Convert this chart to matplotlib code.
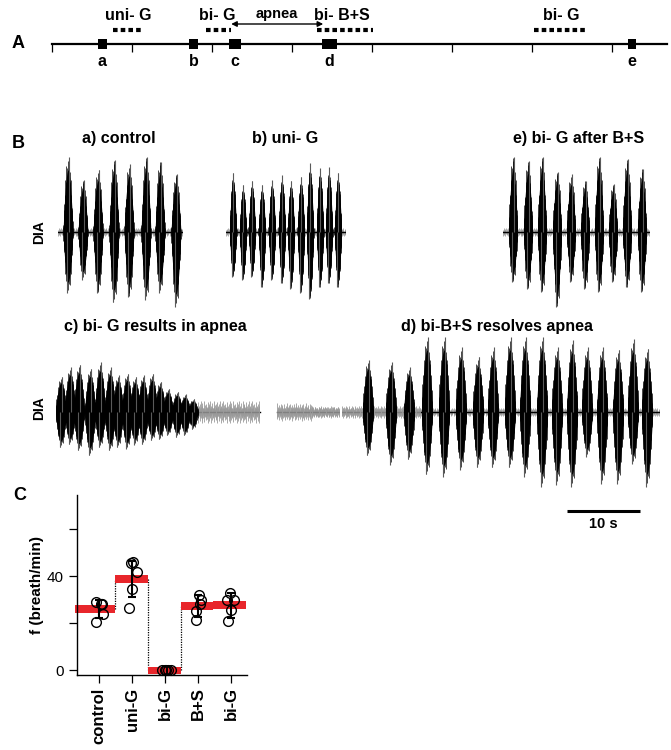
"""Figure: timeline of injections (A), DIA EMG bursts (B), breathing frequency (C)."""

import matplotlib
matplotlib.use("Agg")
import matplotlib.pyplot as plt
import numpy as np

plt.rcParams["font.family"] = ["Liberation Sans", "DejaVu Sans"]

W, H = 671, 750
PX_PER_S = 7.3          # trace time scale (10 s scale bar = 73 px)
PX_PER_UNIT = 80        # trace amplitude 1.0 = 80 px

# ---------------- A: timeline ----------------
EVENT_LABELS = ["a", "b", "c", "d", "e"]
EVENT_POS = [0.63, 1.77, 2.29, 3.47, 7.25]          # timeline units
EVENT_WIDTH = [0.11, 0.11, 0.15, 0.19, 0.11]
TIMELINE_END = 7.69
TIMELINE_TICKS = [0, 1, 2, 3, 4, 5, 6, 7]
INJ_LABELS = ["uni- G", "bi- G", "bi- B+S", "bi- G"]
INJ_START = [0.76, 1.93, 3.31, 6.02]
INJ_END = [1.11, 2.24, 4.01, 6.68]
INJ_TEXT_X = [0.95, 2.06, 3.62, 6.37]
APNEA = (2.24, 3.39)

# ---------------- B: DIA traces (burst centre s, up / down amplitude) ----------------
A_T = [1.37, 3.42, 5.48, 7.67, 9.73, 12.05, 13.97, 16.16]
A_UP = [0.94, 0.65, 0.78, 0.90, 0.85, 0.94, 0.88, 0.72]
A_DN = [0.76, 0.60, 0.76, 0.88, 0.81, 0.85, 0.76, 0.94]

B_T = [0.96, 2.33, 3.56, 4.93, 6.30, 7.67, 8.90, 10.27, 11.51, 12.88, 14.11, 15.34]
B_UP = [0.74, 0.59, 0.64, 0.59, 0.65, 0.71, 0.64, 0.69, 0.86, 0.80, 0.81, 0.74]
B_DN = [0.56, 0.60, 0.56, 0.69, 0.60, 0.64, 0.71, 0.76, 0.84, 0.69, 0.64, 0.69]

E_T = [1.37, 3.42, 5.34, 7.40, 9.32, 11.23, 13.15, 15.07, 16.99, 19.04]
E_UP = [0.94, 0.89, 0.94, 0.75, 0.72, 0.64, 0.94, 0.60, 0.91, 0.79]
E_DN = [0.62, 0.71, 0.75, 0.94, 0.62, 0.71, 0.75, 0.62, 0.69, 0.75]

C_T = [0.68, 1.92, 3.15, 4.66, 6.03, 7.40, 8.49, 9.73, 10.82, 11.92, 13.15,
       14.25, 15.34, 16.58, 17.67, 18.77]
C_UP = [0.44, 0.56, 0.59, 0.54, 0.62, 0.56, 0.46, 0.48, 0.44, 0.46, 0.48,
        0.38, 0.29, 0.25, 0.22, 0.16]
C_DN = [0.44, 0.40, 0.48, 0.54, 0.44, 0.48, 0.44, 0.46, 0.41, 0.40, 0.35,
        0.34, 0.29, 0.31, 0.29, 0.21]

D_T = [3.56, 6.71, 9.18, 11.64, 13.97, 16.30, 18.63, 20.68, 23.01, 25.07,
       27.40, 29.45, 31.51, 33.56, 35.62, 37.81, 39.86, 41.78]
D_UP = [0.65, 0.62, 0.56, 0.94, 0.94, 0.81, 0.69, 0.81, 0.94, 0.94, 0.94,
        0.81, 0.90, 0.81, 0.81, 0.78, 0.91, 0.79]
D_DN = [0.54, 0.66, 0.59, 0.78, 0.81, 0.72, 0.69, 0.69, 0.69, 0.81, 0.94,
        0.91, 0.94, 0.56, 0.90, 0.90, 0.65, 0.94]

# background (tonic) noise segments: (start s, end s, amplitude)
C_NOISE = [(18.5, 27.9, 0.14), (30.3, 35.0, 0.11), (35.0, 39.0, 0.07)]
D_NOISE = [(0.0, 10.7, 0.08)]
C_SEGMENTS = [(0.0, 27.9), (30.3, 39.0)]

# spike texture inside bursts (drawing pattern only)
TEX = np.array([1.0, 0.55, 0.82, 0.35, 0.95, 0.62, 0.74, 0.42, 0.9, 0.5, 0.68])

# ---------------- C: breathing frequency ----------------
GROUPS = ["control", "uni-G", "bi-G", "B+S", "bi-G"]
MEANS = [26.0, 38.8, 0.0, 27.3, 27.7]
SDS = [3.8, 7.8, 0.0, 4.6, 5.3]
PTS = [[29.0, 28.3, 28.0, 24.0, 20.4],
       [46.0, 45.4, 41.8, 34.7, 26.6],
       [0.0, 0.0, 0.0, 0.0, 0.0],
       [31.8, 29.7, 28.0, 25.4, 21.4],
       [32.8, 29.7, 30.0, 25.7, 21.1]]
PTS_DX = [[-0.1, 0.05, 0.1, 0.12, -0.08],
          [0.02, -0.02, 0.15, 0.0, -0.08],
          [-0.1, 0.0, 0.04, 0.1, 0.17],
          [0.02, 0.1, 0.05, -0.05, -0.08],
          [-0.02, -0.14, 0.1, 0.0, -0.1]]

fig = plt.figure(figsize=(W / 100, H / 100), dpi=100)


def px_axes(x0, y0, x1, y1):
    return fig.add_axes([x0 / W, 1 - y1 / H, (x1 - x0) / W, (y1 - y0) / H])


# ---------------- panel A ----------------
axA = px_axes(0, 0, W, 80)
axA.set_xlim(-52 / 80, (W - 52) / 80)
axA.set_ylim(-36, 44)
axA.axis("off")
axA.plot([0, TIMELINE_END], [0, 0], color="black", lw=1.6)
axA.vlines(TIMELINE_TICKS, -8, 0, color="black", lw=0.9)
axA.bar(EVENT_POS, 10, bottom=-5, width=EVENT_WIDTH, color="black")
for lab, x in zip(EVENT_LABELS, EVENT_POS):
    axA.text(x, -18, lab, ha="center", va="center", fontsize=11.5, fontweight="bold")
for lab, s, e, tx in zip(INJ_LABELS, INJ_START, INJ_END, INJ_TEXT_X):
    axA.plot([s, e], [14, 14], color="black", lw=3, ls=(0, (1.1, 0.75)))
    axA.text(tx, 29, lab, ha="center", va="center", fontsize=11.5, fontweight="bold")
axA.annotate("", xy=(APNEA[0], 20), xytext=(APNEA[1], 20),
             arrowprops=dict(arrowstyle="<|-|>", color="black", lw=1.0,
                             mutation_scale=8, shrinkA=0, shrinkB=0))
axA.text(sum(APNEA) / 2, 30, "apnea", ha="center", va="center", fontsize=10.5,
         fontweight="bold")
fig.text(12 / W, 1 - 43 / H, "A", fontsize=13, fontweight="bold", va="center")


# ---------------- panel B ----------------
def draw_trace(ax, t_end, times, ups, dns, width, noise=(), segments=None,
               base_noise=0.05):
    ax.set_xlim(0, t_end)
    ax.set_ylim(-1, 1)
    ax.axis("off")
    segments = segments or [(0, t_end)]
    for s, e in segments:
        tt = np.arange(s, e, 0.08)
        tex = np.resize(TEX, len(tt))
        ax.vlines(tt, -base_noise * tex, base_noise * tex[::-1], color="#8a8a8a", lw=0.5)
        ax.plot([s, e], [0, 0], color="black", lw=1.0)
    for s, e, a in noise:
        tt = np.arange(s, e, 0.12)
        tex = np.resize(TEX, len(tt))
        ax.vlines(tt, -a * tex[::-1], a * tex, color="#9a9a9a", lw=0.6)
    for tc, up, dn in zip(times, ups, dns):
        t = np.linspace(tc - width / 2, tc + width / 2, 50)
        u = (t - t[0]) / width
        env = np.sin(np.pi * u) ** 0.85
        tex = np.resize(TEX, len(t))
        ax.vlines(t, -dn * env * tex, up * env * tex[::-1], color="black", lw=0.5)
        ax.fill_between(t, -dn * 0.82 * env, up * 0.82 * env, color="black", lw=0)
        ax.vlines(tc + 0.06 * width, 0, up, color="#5a5a5a", lw=0.8)
        ax.vlines(tc - 0.08 * width, -dn, 0, color="#5a5a5a", lw=0.8)
    return ax


def trace_axes(x0, x1, yc):
    return px_axes(x0, yc - PX_PER_UNIT, x1, yc + PX_PER_UNIT)


ax_a = trace_axes(58, 183, 232)
draw_trace(ax_a, 125 / PX_PER_S, A_T, A_UP, A_DN, 1.35)
ax_b = trace_axes(226, 346, 232)
draw_trace(ax_b, 120 / PX_PER_S, B_T, B_UP, B_DN, 1.0)
ax_e = trace_axes(503, 650, 232)
draw_trace(ax_e, 147 / PX_PER_S, E_T, E_UP, E_DN, 1.25)
ax_c = trace_axes(56, 340, 412)
draw_trace(ax_c, 284 / PX_PER_S, C_T, C_UP, C_DN, 1.55, noise=C_NOISE,
           segments=C_SEGMENTS, base_noise=0.06)
ax_d = trace_axes(342, 660, 412)
draw_trace(ax_d, 318 / PX_PER_S, D_T, D_UP, D_DN, 1.55, noise=D_NOISE)

# 10 s scale bar drawn in trace time units
ax_d.plot([30.8, 40.8], [-1.24, -1.24], color="black", lw=2.2, clip_on=False,
          solid_capstyle="butt")
ax_d.text(35.8, -1.4, "10 s", ha="center", va="center", fontsize=10.5,
          fontweight="bold", clip_on=False)

titles = [(119, 139, "a) control"), (285, 139, "b) uni- G"),
          (579, 139, "e) bi- G after B+S"), (155, 326, "c) bi- G results in apnea"),
          (497, 326, "d) bi-B+S resolves apnea")]
for x, y, s in titles:
    fig.text(x / W, 1 - y / H, s, ha="center", va="center", fontsize=11.6,
             fontweight="bold")
for y in (232, 408):
    fig.text(39 / W, 1 - y / H, "DIA", ha="center", va="center", rotation=90,
             fontsize=10, fontweight="bold")
fig.text(12 / W, 1 - 143 / H, "B", fontsize=13, fontweight="bold", va="center")

# ---------------- panel C ----------------
axC = px_axes(77, 495, 247, 675)
fig.text(13 / W, 1 - 495 / H, "C", fontsize=13, fontweight="bold", va="center")
x = np.arange(len(GROUPS))
lefts = [-0.72, 0.48, 1.48, 2.48, 3.45]
rights = [0.48, 1.48, 2.48, 3.45, 4.45]
for i in range(len(GROUPS)):
    axC.bar(lefts[i], 3.2, bottom=MEANS[i] - 1.6, width=rights[i] - lefts[i],
            align="edge", color="#e8262b", lw=0, zorder=2, clip_on=False)
for i in range(len(GROUPS) - 1):
    if abs(MEANS[i + 1] - MEANS[i]) > 2:
        axC.plot([rights[i], rights[i]], [MEANS[i], MEANS[i + 1]], color="black",
                 lw=0.9, ls=(0, (1, 1)), zorder=1)
for i in range(len(GROUPS)):
    if SDS[i] > 0:
        axC.errorbar(x[i], MEANS[i], yerr=SDS[i], color="black", lw=1.5,
                     capsize=3, capthick=1.5, zorder=3)
    axC.plot(x[i] + np.array(PTS_DX[i]), PTS[i], "o", mfc="none", mec="black",
             ms=7, mew=1.0, zorder=4, clip_on=False)
axC.set_xlim(-0.67, 4.48)
axC.set_ylim(-2, 74.5)
axC.set_yticks([0, 20, 40, 60])
axC.set_yticklabels(["0", "", "40", ""])
axC.set_xticks(x)
axC.set_xticklabels(GROUPS, rotation=90, fontweight="bold", fontsize=12)
axC.tick_params(axis="both", length=6, width=0.9, labelsize=11)
axC.tick_params(axis="x", labelsize=12, pad=3)
for side in ("top", "right"):
    axC.spines[side].set_visible(False)
for side in ("left", "bottom"):
    axC.spines[side].set_linewidth(1.0)
axC.set_ylabel("f (breath/min)", fontsize=11, fontweight="bold", labelpad=2)

fig.savefig("out.png", dpi=100)
